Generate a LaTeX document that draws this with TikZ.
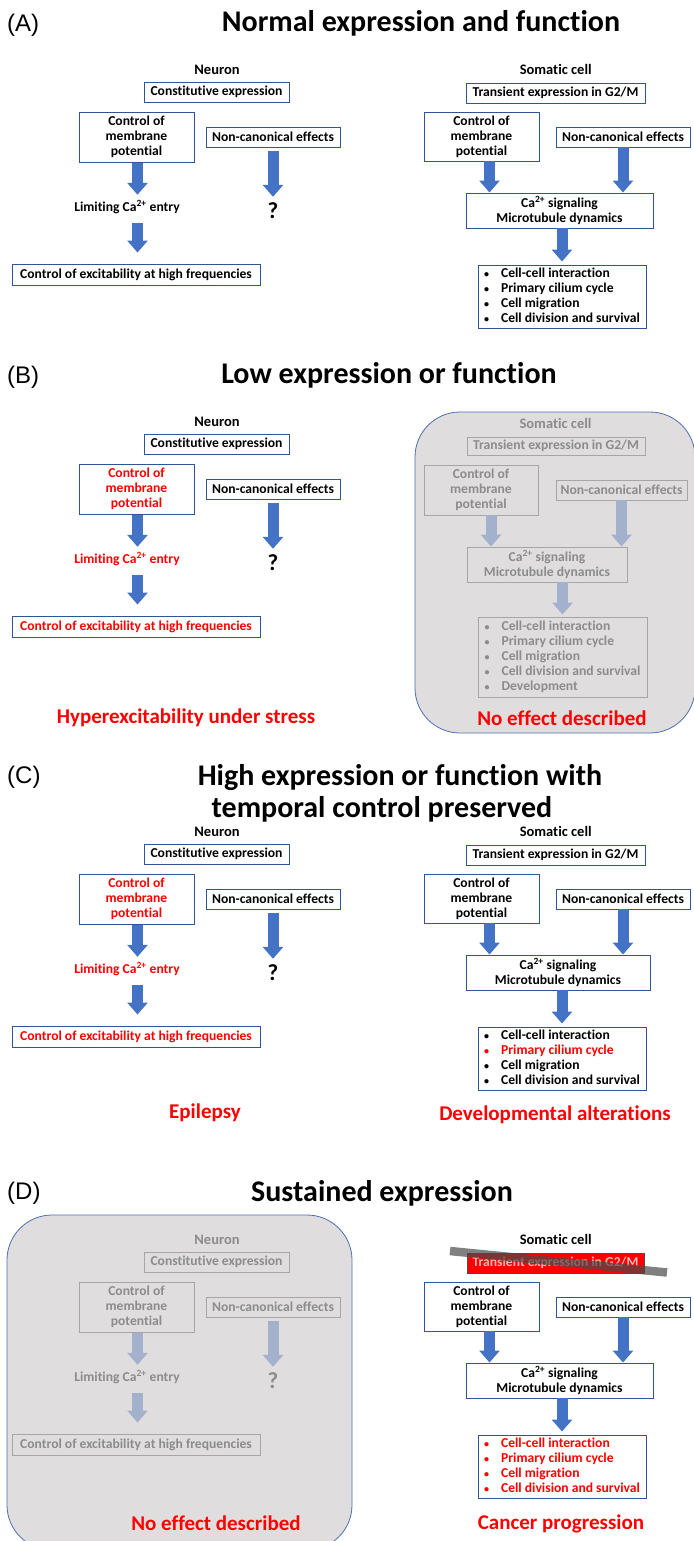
\documentclass[tikz,border=0pt]{standalone}
\usepackage{fontspec}
\setmainfont{Carlito}[Ligatures=NoCommon]
\newfontfamily\letterfam{Liberation Sans}
\usetikzlibrary{arrows.meta}

\definecolor{boxblue}{HTML}{2F5597}
\definecolor{arrowblue}{HTML}{4472C4}
\definecolor{alertred}{HTML}{FF0000}
\definecolor{fadetext}{HTML}{8C8C8C}
\definecolor{fadeline}{HTML}{A6A6A6}
\definecolor{fadeblue}{HTML}{A3B1CD}
\definecolor{panelgrey}{HTML}{DFDDDD}
\definecolor{panelline}{HTML}{4F6FAE}

\newcommand\txtbox{\fontsize{13.6}{15}\selectfont\bfseries}
\newcommand\txtcell{\fontsize{14.5}{16}\selectfont\bfseries}
\newcommand\txttitle{\fontsize{30}{34}\selectfont\bfseries}
\newcommand\txtverdict{\fontsize{21}{24}\selectfont\bfseries}
\newcommand\txtletter{\letterfam\fontsize{24}{28}\selectfont}
\newcommand\txtquery{\fontsize{23}{24}\selectfont\bfseries}
\newcommand\blt{{\fontsize{10}{10}\selectfont\textbullet}}
\newcommand\itemrow[2]{\textcolor{#1}{\blt} & \textcolor{#1}{#2}}

\tikzset{
  stagebox/.style={draw=boxblue, line width=0.9pt, fill=white, inner sep=0pt, align=center, font=\txtbox},
  fadebox/.style={draw=fadeline, line width=0.9pt, inner sep=0pt, align=center, font=\txtbox, text=fadetext},
  steptext/.style={font=\txtbox, inner sep=0pt, minimum height=14pt},
  query/.style={font=\txtquery, inner sep=0pt, minimum height=22pt},
  celllabel/.style={font=\txtcell, inner sep=0pt},
  blockarrow/.style={draw=arrowblue, line width=11pt, -{Triangle[width=20pt,length=12pt]}},
  fadearrow/.style={blockarrow, draw=fadeblue},
  verdict/.style={font=\txtverdict, text=alertred, inner sep=0pt},
  paneltitle/.style={font=\txttitle, anchor=base, inner sep=0pt},
  panelletter/.style={font=\txtletter, anchor=base west, inner sep=0pt},
  greypanel/.style={fill=panelgrey, draw=panelline, line width=0.8pt, rounded corners=45pt},
  strikebar/.style={draw=black!71, line width=8.5pt, opacity=0.7}
}

\begin{document}
\begin{tikzpicture}[x=1pt, y=-1pt]
    \useasboundingbox (0, 0) rectangle (693, 1541);

    % vertical offsets of the four panels
    \def\offA{0}
    \def\offB{352}
    \def\offBr{353}
    \def\offC{762}
    \def\offD{1170}

    % ---------------- (A) Normal expression and function ----------------
    \node[panelletter] (letA) at (7, 32) {(A)};
    \node[paneltitle] (titleA) at (421, 32) {Normal expression and function};

    % Neuron
    \node[celllabel] (neuA) at (217, \offA+70) {Neuron};
    \node[stagebox, minimum width=145pt, minimum height=20pt] (constA) at (216.5, \offA+92) {Constitutive expression};
    \node[stagebox, minimum width=115pt, minimum height=50pt] (ctrlA) at (136.5, \offA+137) {Control of\\membrane\\potential};
    \node[stagebox, minimum width=134pt, minimum height=20pt] (noncA) at (273, \offA+137) {Non-canonical effects};
    \node[steptext] (limA) at (127, \offA+207) {Limiting Ca\textsuperscript{2+} entry};
    \node[stagebox, minimum width=248pt, minimum height=21pt] (excA) at (136, \offA+274.5) {Control of excitability at high frequencies};
    \node[query] (qA) at (273, \offA+211) {?};
    \draw[blockarrow, shorten <=1pt, shorten >=5pt] ([xshift=1pt]ctrlA.south) -- ([xshift=1pt]ctrlA.south |- limA.north);
    \draw[blockarrow, shorten <=9pt, shorten >=11pt] ([xshift=1pt]ctrlA.south |- limA.south) -- ([xshift=1pt]ctrlA.south |- excA.north);
    \draw[blockarrow, shorten <=4pt, shorten >=3pt] (noncA.south) -- (noncA.south |- qA.north);

    % Somatic cell
    \node[celllabel] (somA) at (555.7, \offA+69) {Somatic cell};
    \node[stagebox, minimum width=179pt, minimum height=20pt] (transA) at (555.5, \offA+93) {Transient expression in G2/M};
    \node[stagebox, minimum width=115pt, minimum height=49pt] (memA) at (481.5, \offA+136.5) {Control of\\membrane\\potential};
    \node[stagebox, minimum width=134pt, minimum height=20pt] (othA) at (623, \offA+137) {Non-canonical effects};
    \node[stagebox, minimum width=187pt, minimum height=35pt] (caA) at (559.5, \offA+210.5) {Ca\textsuperscript{2+} signaling\\Microtubule dynamics};
    \node[stagebox, minimum width=168pt, minimum height=63pt] (listA) at (562, \offA+296.5) {\begin{tabular}{@{}l@{\hspace{12pt}}l@{}}
        \itemrow{black}{Cell-cell interaction}\\
        \itemrow{black}{Primary cilium cycle}\\
        \itemrow{black}{Cell migration}\\
        \itemrow{black}{Cell division and survival}
      \end{tabular}};
    \draw[blockarrow] ([xshift=8pt]memA.south) -- ([xshift=8pt]memA.south |- caA.north);
    \draw[blockarrow] (othA.south) -- (othA.south |- caA.north);
    \draw[blockarrow, shorten >=3pt] (listA.north |- caA.south) -- (listA.north);

    % ---------------- (B) Low expression or function ----------------
    \node[panelletter] (letB) at (7, 383) {(B)};
    \node[paneltitle] (titleB) at (389, 383) {Low expression or function};

    % Neuron
    \node[celllabel] (neuB) at (217, \offB+70) {Neuron};
    \node[stagebox, minimum width=145pt, minimum height=20pt] (constB) at (216.5, \offB+92) {Constitutive expression};
    \node[stagebox, minimum width=115pt, minimum height=50pt, text=alertred] (ctrlB) at (136.5, \offB+137) {Control of\\membrane\\potential};
    \node[stagebox, minimum width=134pt, minimum height=20pt] (noncB) at (273, \offB+137) {Non-canonical effects};
    \node[steptext, text=alertred] (limB) at (127, \offB+207) {Limiting Ca\textsuperscript{2+} entry};
    \node[stagebox, minimum width=248pt, minimum height=21pt, text=alertred] (excB) at (136, \offB+274.5) {Control of excitability at high frequencies};
    \node[query] (qB) at (273, \offB+211) {?};
    \draw[blockarrow, shorten <=1pt, shorten >=5pt] ([xshift=1pt]ctrlB.south) -- ([xshift=1pt]ctrlB.south |- limB.north);
    \draw[blockarrow, shorten <=9pt, shorten >=11pt] ([xshift=1pt]ctrlB.south |- limB.south) -- ([xshift=1pt]ctrlB.south |- excB.north);
    \draw[blockarrow, shorten <=4pt, shorten >=3pt] (noncB.south) -- (noncB.south |- qB.north);
    \node[verdict] (verdB1) at (186, 718) {Hyperexcitability under stress};

    % Somatic cell (greyed out)
    \draw[greypanel] (415, 412) rectangle (695, 733);
    \node[celllabel, text=fadetext] (somB) at (555.5, \offBr+70) {Somatic cell};
    \node[fadebox, minimum width=178pt, minimum height=18pt] (transB) at (556, \offBr+93) {Transient expression in G2/M};
    \node[fadebox, minimum width=114pt, minimum height=50pt] (memB) at (481, \offBr+137) {Control of\\membrane\\potential};
    \node[fadebox, minimum width=131pt, minimum height=20pt] (othB) at (621.5, \offBr+137) {Non-canonical effects};
    \node[fadebox, minimum width=160pt, minimum height=35pt] (caB) at (547, \offBr+211.5) {Ca\textsuperscript{2+} signaling\\Microtubule dynamics};
    \node[fadebox, minimum width=169pt, minimum height=80pt] (listB) at (562.5, 657) {\begin{tabular}{@{}l@{\hspace{12pt}}l@{}}
        \itemrow{fadetext}{Cell-cell interaction}\\
        \itemrow{fadetext}{Primary cilium cycle}\\
        \itemrow{fadetext}{Cell migration}\\
        \itemrow{fadetext}{Cell division and survival}\\
        \itemrow{fadetext}{Development}
      \end{tabular}};
    \draw[fadearrow] ([xshift=10pt]memB.south) -- ([xshift=10pt]memB.south |- caB.north);
    \draw[fadearrow] (othB.south) -- (othB.south |- caB.north);
    \draw[fadearrow, shorten >=2pt] (listB.north |- caB.south) -- (listB.north);
    \node[verdict] (verdB2) at (562, 718) {No effect described};

    % ---------------- (C) High expression, temporal control preserved ----------------
    \node[panelletter] (letC) at (7, 783) {(C)};
    \node[paneltitle] (titleC1) at (400, 785) {High expression or function with};
    \node[paneltitle] (titleC2) at (382, 817) {temporal control preserved};

    % Neuron
    \node[celllabel] (neuC) at (217, \offC+70) {Neuron};
    \node[stagebox, minimum width=145pt, minimum height=20pt] (constC) at (216.5, \offC+92) {Constitutive expression};
    \node[stagebox, minimum width=115pt, minimum height=50pt, text=alertred] (ctrlC) at (136.5, \offC+137) {Control of\\membrane\\potential};
    \node[stagebox, minimum width=134pt, minimum height=20pt] (noncC) at (273, \offC+137) {Non-canonical effects};
    \node[steptext, text=alertred] (limC) at (127, \offC+207) {Limiting Ca\textsuperscript{2+} entry};
    \node[stagebox, minimum width=248pt, minimum height=21pt, text=alertred] (excC) at (136, \offC+274.5) {Control of excitability at high frequencies};
    \node[query] (qC) at (273, \offC+211) {?};
    \draw[blockarrow, shorten <=1pt, shorten >=5pt] ([xshift=1pt]ctrlC.south) -- ([xshift=1pt]ctrlC.south |- limC.north);
    \draw[blockarrow, shorten <=9pt, shorten >=11pt] ([xshift=1pt]ctrlC.south |- limC.south) -- ([xshift=1pt]ctrlC.south |- excC.north);
    \draw[blockarrow, shorten <=4pt, shorten >=3pt] (noncC.south) -- (noncC.south |- qC.north);
    \node[verdict] (verdC1) at (205, 1113) {Epilepsy};

    % Somatic cell
    \node[celllabel] (somC) at (555.7, \offC+69) {Somatic cell};
    \node[stagebox, minimum width=179pt, minimum height=20pt] (transC) at (555.5, \offC+93) {Transient expression in G2/M};
    \node[stagebox, minimum width=115pt, minimum height=49pt] (memC) at (481.5, \offC+136.5) {Control of\\membrane\\potential};
    \node[stagebox, minimum width=134pt, minimum height=20pt] (othC) at (623, \offC+137) {Non-canonical effects};
    \node[stagebox, minimum width=184pt, minimum height=35pt] (caC) at (558, \offC+210.5) {Ca\textsuperscript{2+} signaling\\Microtubule dynamics};
    \node[stagebox, minimum width=168pt, minimum height=63pt] (listC) at (562, \offC+296.5) {\begin{tabular}{@{}l@{\hspace{12pt}}l@{}}
        \itemrow{black}{Cell-cell interaction}\\
        \itemrow{alertred}{Primary cilium cycle}\\
        \itemrow{black}{Cell migration}\\
        \itemrow{black}{Cell division and survival}
      \end{tabular}};
    \draw[blockarrow] ([xshift=8pt]memC.south) -- ([xshift=8pt]memC.south |- caC.north);
    \draw[blockarrow] (othC.south) -- (othC.south |- caC.north);
    \draw[blockarrow, shorten >=3pt] (listC.north |- caC.south) -- (listC.north);
    \node[verdict] (verdC2) at (555, 1115) {Developmental alterations};

    % ---------------- (D) Sustained expression ----------------
    \node[panelletter] (letD) at (7, 1199) {(D)};
    \node[paneltitle] (titleD) at (382, 1201) {Sustained expression};

    % Neuron (greyed out)
    \draw[greypanel] (7, 1215) rectangle (352, 1550);
    \node[celllabel, text=fadetext] (neuD) at (217, \offD+70) {Neuron};
    \node[fadebox, minimum width=145pt, minimum height=20pt] (constD) at (216.5, \offD+92) {Constitutive expression};
    \node[fadebox, minimum width=115pt, minimum height=50pt] (ctrlD) at (136.5, \offD+137) {Control of\\membrane\\potential};
    \node[fadebox, minimum width=134pt, minimum height=20pt] (noncD) at (273, \offD+137) {Non-canonical effects};
    \node[steptext, text=fadetext] (limD) at (127, \offD+207) {Limiting Ca\textsuperscript{2+} entry};
    \node[fadebox, minimum width=248pt, minimum height=21pt] (excD) at (136, \offD+274.5) {Control of excitability at high frequencies};
    \node[query, text=fadetext] (qD) at (273, \offD+211) {?};
    \draw[fadearrow, shorten <=1pt, shorten >=5pt] ([xshift=1pt]ctrlD.south) -- ([xshift=1pt]ctrlD.south |- limD.north);
    \draw[fadearrow, shorten <=9pt, shorten >=11pt] ([xshift=1pt]ctrlD.south |- limD.south) -- ([xshift=1pt]ctrlD.south |- excD.north);
    \draw[fadearrow, shorten <=4pt, shorten >=3pt] (noncD.south) -- (noncD.south |- qD.north);
    \node[verdict] (verdD1) at (216, 1523) {No effect described};

    % Somatic cell
    \node[celllabel] (somD) at (555.7, \offD+69) {Somatic cell};
    \node[stagebox, minimum width=177pt, minimum height=20pt, fill=alertred, draw=black!70, text=white!72!alertred] (transD) at (555.5, \offD+93) {Transient expression in G2/M};
    \coordinate (barL) at (450, \offD+81);
    \coordinate (barR) at (667, \offD+102.5);
    \draw[strikebar] (barL) -- (barR);
    \node[stagebox, minimum width=115pt, minimum height=49pt] (memD) at (481.5, \offD+136.5) {Control of\\membrane\\potential};
    \node[stagebox, minimum width=134pt, minimum height=20pt] (othD) at (623, \offD+137) {Non-canonical effects};
    \node[stagebox, minimum width=187pt, minimum height=35pt] (caD) at (559.5, \offD+210.5) {Ca\textsuperscript{2+} signaling\\Microtubule dynamics};
    \node[stagebox, minimum width=168pt, minimum height=63pt] (listD) at (562, \offD+296.5) {\begin{tabular}{@{}l@{\hspace{12pt}}l@{}}
        \itemrow{alertred}{Cell-cell interaction}\\
        \itemrow{alertred}{Primary cilium cycle}\\
        \itemrow{alertred}{Cell migration}\\
        \itemrow{alertred}{Cell division and survival}
      \end{tabular}};
    \draw[blockarrow] ([xshift=8pt]memD.south) -- ([xshift=8pt]memD.south |- caD.north);
    \draw[blockarrow] (othD.south) -- (othD.south |- caD.north);
    \draw[blockarrow, shorten >=3pt] (listD.north |- caD.south) -- (listD.north);
    \node[verdict] (verdD2) at (561, 1524) {Cancer progression};

\end{tikzpicture}
\end{document}
